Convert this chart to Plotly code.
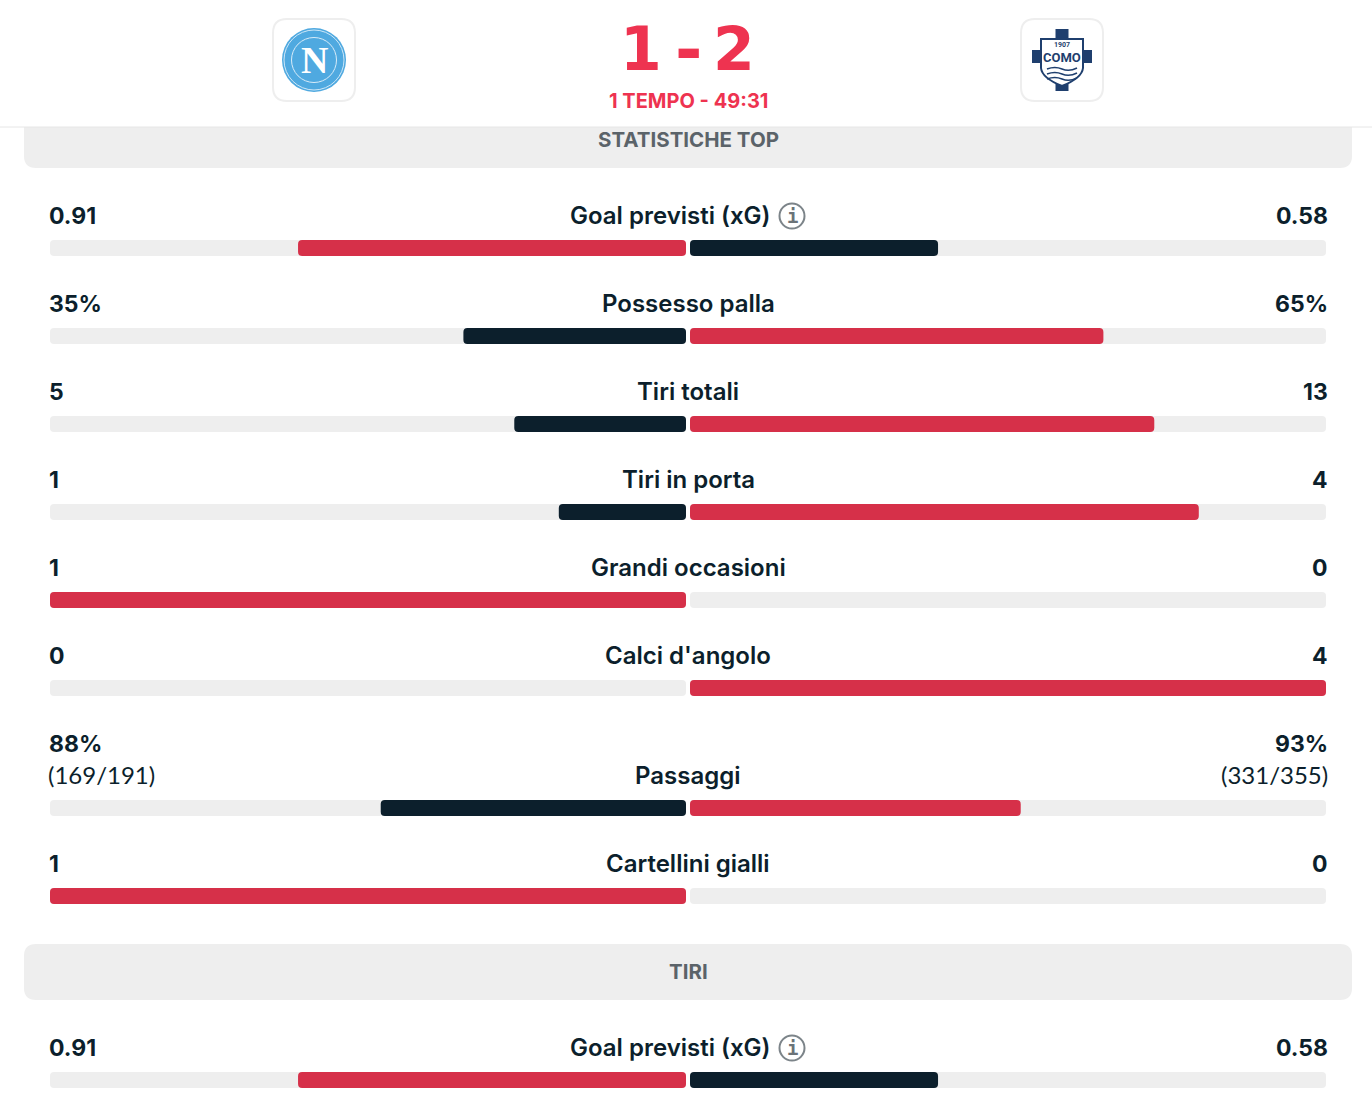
"""
plot.py
Match stats panel (Napoli - Como) drawn with horizontal bars.
"""

import plotly.graph_objects as go

W, H = 1372, 1120

# Data
LABELS = ["Goal previsti (xG)", "Possesso palla", "Tiri totali", "Tiri in porta",
          "Grandi occasioni", "Calci d'angolo", "Passaggi", "Cartellini gialli",
          "Goal previsti (xG)"]
HOME_TEXT = ["0.91", "35%", "5", "1", "1", "0", "88%", "1", "0.91"]
AWAY_TEXT = ["0.58", "65%", "13", "4", "0", "4", "93%", "0", "0.58"]
HOME_SUB = ["", "", "", "", "", "", "(169/191)", "", ""]
AWAY_SUB = ["", "", "", "", "", "", "(331/355)", "", ""]
HOME_SHARE = [0.61, 0.35, 0.27, 0.20, 1.0, 0.0, 0.48, 1.0, 0.61]
AWAY_SHARE = [0.39, 0.65, 0.73, 0.80, 0.0, 1.0, 0.52, 0.0, 0.39]
TRACK_SHARE = [1.0] * 9

# Row centres on the page (pixels from the top)
ROW_Y = [248, 336, 424, 512, 600, 688, 808, 896, 1080]

RED = "#D63049"
NAVY = "#0C1F2C"
TRACK = "#EEEEEE"
SCORE_RED = "#EE3350"
GREY_TEXT = "#5B6369"
FONT = "Inter"
BAR_H = 16


def px(x):
    return x / W


def add_text(fig, x, y, text, size=24, color=NAVY, anchor="center", weight=600, family=FONT):
    fig.add_annotation(
        x=px(x), y=y, xref="paper", yref="y", text=text, showarrow=False,
        xanchor=anchor, yanchor="middle", borderpad=0,
        font=dict(family=family, size=size, color=color, weight=weight),
    )


def add_rounded(fig, x0, y0, x1, y1, r, fill, line=None, line_w=0, top=True):
    # rounded rectangle as an svg path, top=False keeps the upper corners square
    xa, xb = px(x0), px(x1)
    rx = px(r)
    if top:
        head = f"M {xa + rx} {y0} L {xb - rx} {y0} Q {xb} {y0} {xb} {y0 + r} "
        tail = f"L {xa} {y0 + r} Q {xa} {y0} {xa + rx} {y0} Z"
    else:
        head = f"M {xa} {y0} L {xb} {y0} "
        tail = f"L {xa} {y0} Z"
    body = f"L {xb} {y1 - r} Q {xb} {y1} {xb - rx} {y1} L {xa + rx} {y1} Q {xa} {y1} {xa} {y1 - r} "
    fig.add_shape(type="path", path=head + body + tail, xref="paper", yref="y",
                  fillcolor=fill, line=dict(color=line or fill, width=line_w), layer="below")


def add_circle(fig, cx, cy, r, fill, line=None, line_w=0):
    fig.add_shape(type="circle", xref="paper", yref="y",
                  x0=px(cx - r), x1=px(cx + r), y0=cy - r, y1=cy + r,
                  fillcolor=fill, line=dict(color=line or fill, width=line_w), layer="below")


def add_box(fig, x0, y0, x1, y1, fill):
    fig.add_shape(type="rect", xref="paper", yref="y", x0=px(x0), x1=px(x1), y0=y0, y1=y1,
                  fillcolor=fill, line=dict(width=0), layer="below")


def add_curve(fig, path_px, fill=None, line=None, line_w=0):
    # path_px is a list of (command, x, y, ...) tuples in page pixels
    parts = []
    for item in path_px:
        cmd, vals = item[0], item[1:]
        coords = []
        for i in range(0, len(vals), 2):
            coords += [str(px(vals[i])), str(vals[i + 1])]
        parts.append(cmd + " " + " ".join(coords))
    fig.add_shape(type="path", path=" ".join(parts), xref="paper", yref="y",
                  fillcolor=fill or "rgba(0,0,0,0)",
                  line=dict(color=line or "rgba(0,0,0,0)", width=line_w), layer="below")


def add_share_bars(fig, values, colors, axis, name):
    # a bar with its own base gets all four corners rounded, so draw it from the far end
    fig.add_trace(go.Bar(y=ROW_Y, x=[-v for v in values], base=values,
                         orientation="h", width=BAR_H,
                         marker=dict(color=colors, line_width=0), xaxis=axis, yaxis="y",
                         hoverinfo="skip", showlegend=False, name=name))


def draw_napoli(fig):
    add_rounded(fig, 273, 19, 355, 101, 14, "white", "#EEEEEE", 2)
    add_circle(fig, 314, 60, 32, "#4FA9E0")
    add_circle(fig, 314, 60, 30, "#4FA9E0", "#CFE8F8", 1)
    add_circle(fig, 314, 60, 22.5, "#4FA9E0", "#D8ECF9", 1)
    add_text(fig, 314, 60, "N", size=38, color="white", weight=700, family="Liberation Serif")


def draw_como(fig):
    blue = "#1F3F6E"
    add_rounded(fig, 1021, 19, 1103, 101, 14, "white", "#EEEEEE", 2)
    add_box(fig, 1055.5, 29, 1068.5, 91, blue)
    add_box(fig, 1032, 50, 1092, 63, blue)
    shield = [("M", 1041, 39), ("L", 1083, 39), ("L", 1083, 68),
              ("Q", 1082, 78, 1062, 86), ("Q", 1042, 78, 1041, 68), ("Z",)]
    add_curve(fig, shield, fill="white", line=blue, line_w=2)
    for y in (69, 74, 79):
        add_curve(fig, [("M", 1047, y), ("Q", 1055, y - 3, 1062, y), ("Q", 1069, y + 3, 1077, y - 1)],
                  line=blue, line_w=1.6)
    add_text(fig, 1062, 45, "1907", size=7, color=blue, weight=700, family="Roboto")
    add_text(fig, 1062, 57, "COMO", size=13, color=blue, weight=700, family="Roboto")


fig = go.Figure()

# grey tracks first, coloured shares on top
add_share_bars(fig, TRACK_SHARE, TRACK, "x", "home track")
add_share_bars(fig, TRACK_SHARE, TRACK, "x2", "away track")

home_colors = [RED if h > a else NAVY for h, a in zip(HOME_SHARE, AWAY_SHARE)]
away_colors = [RED if a > h else NAVY for h, a in zip(HOME_SHARE, AWAY_SHARE)]
add_share_bars(fig, HOME_SHARE, home_colors, "x", "Napoli")
add_share_bars(fig, AWAY_SHARE, away_colors, "x2", "Como")

# Section bands
add_rounded(fig, 24, 127, 1352, 168, 12, TRACK, top=False)
add_rounded(fig, 24, 944, 1352, 1000, 12, TRACK)
fig.add_shape(type="line", xref="paper", yref="y", x0=0, x1=1, y0=127, y1=127,
              line=dict(color="#E6E6E6", width=1), layer="below")
add_text(fig, 688, 139.5, "STATISTICHE TOP", size=20.5, color=GREY_TEXT, weight=700)
add_text(fig, 688, 971.5, "TIRI", size=20.5, color=GREY_TEXT, weight=700)

# Header
draw_napoli(fig)
draw_como(fig)
add_text(fig, 641, 49, "1", size=60, color=SCORE_RED, weight=700, family="DejaVu Sans")
add_text(fig, 688, 49, "-", size=66, color=SCORE_RED, weight=700, family="DejaVu Sans")
add_text(fig, 734, 49, "2", size=60, color=SCORE_RED, weight=700, family="DejaVu Sans")
add_text(fig, 688, 101, "1 TEMPO - 49:31", size=20, color=SCORE_RED, weight=700)

# Row labels and values
for i, row in enumerate(ROW_Y):
    has_info = LABELS[i].startswith("Goal")
    add_text(fig, 670 if has_info else 688, row - 32.5, LABELS[i])
    value_y = row - 64.5 if HOME_SUB[i] else row - 32.5
    add_text(fig, 47.5, value_y, HOME_TEXT[i], size=23, anchor="left", weight=700)
    add_text(fig, 1329, value_y, AWAY_TEXT[i], size=23, anchor="right", weight=700)
    if HOME_SUB[i]:
        add_text(fig, 47, row - 33.5, HOME_SUB[i], anchor="left", weight=400, family="Lato")
        add_text(fig, 1329, row - 33.5, AWAY_SUB[i], anchor="right", weight=400, family="Lato")
    if has_info:
        add_circle(fig, 792, row - 32, 12.5, "white", "#7C8489", 2)
        add_text(fig, 792, row - 32, "i", size=19, color="#6B7378", weight=700, family="DejaVu Sans Mono")

fig.update_layout(
    width=W, height=H, margin=dict(l=0, r=0, t=0, b=0),
    paper_bgcolor="white", plot_bgcolor="white",
    barmode="overlay", barcornerradius=4, showlegend=False,
    xaxis=dict(domain=[px(50), px(686)], range=[1, 0], visible=False, fixedrange=True),
    xaxis2=dict(domain=[px(690), px(1326)], range=[0, 1], visible=False, fixedrange=True, anchor="y"),
    yaxis=dict(domain=[0, 1], range=[H, 0], visible=False, fixedrange=True),
)

fig.write_html("out.html", config={"displayModeBar": False},
               post_script="document.body.style.margin='0';document.body.style.overflow='hidden';")
